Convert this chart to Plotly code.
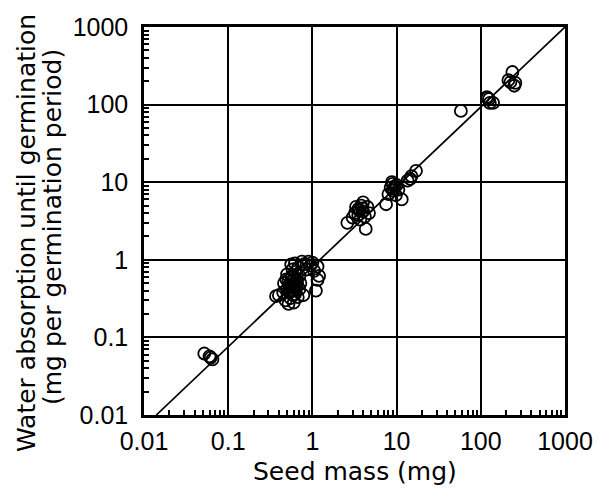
import plotly.graph_objects as go

# Seed mass (mg) and water absorption until germination (mg per germination period)
seed_mass = [
    0.052, 0.062, 0.065, 0.060,
    0.37, 0.40, 0.45, 0.48, 0.50, 0.52, 0.55, 0.55, 0.57, 0.58, 0.60, 0.60,
    0.62, 0.63, 0.65, 0.65, 0.67, 0.68, 0.70, 0.70, 0.72, 0.75, 0.78, 0.80,
    0.85, 0.90, 0.95, 1.00, 1.05, 1.10, 1.15, 1.20, 1.15, 0.50, 0.46, 0.53,
    0.58, 0.62, 0.56, 0.64, 0.59, 0.53, 0.61, 0.66, 0.57, 0.52, 0.56,
    0.54, 0.60, 0.63, 0.49, 0.58,
    2.6, 3.0, 3.2, 3.5, 3.5, 3.8, 4.0, 4.0, 4.2, 4.5, 4.3, 3.3, 4.7, 3.7,
    3.9, 3.6,
    7.5, 8.0, 8.5, 9.0, 9.0, 9.5, 10.0, 10.5, 8.8, 11.5, 9.8, 9.3,
    13.5, 15.0, 17.0, 14.5,
    58,
    120, 128, 125, 140, 118,
    237, 225, 257, 213, 250,
]
water_uptake = [
    0.062, 0.055, 0.052, 0.057,
    0.34, 0.35, 0.38, 0.30, 0.42, 0.55, 0.45, 0.32, 0.60, 0.40, 0.50, 0.28,
    0.36, 0.70, 0.45, 0.55, 0.33, 0.80, 0.42, 0.62, 0.50, 0.95, 0.35, 0.88,
    0.75, 0.95, 0.85, 0.92, 0.72, 0.40, 0.55, 0.62, 0.82, 0.65, 0.50, 0.38,
    0.75, 0.90, 0.52, 0.42, 0.35, 0.47, 0.58, 0.50, 0.44, 0.27, 0.87,
    0.40, 0.46, 0.52, 0.56, 0.62,
    3.0, 3.5, 4.0, 4.5, 3.8, 5.0, 4.2, 5.5, 3.6, 4.8, 2.5, 4.8, 4.0, 3.3,
    4.6, 4.3,
    5.2, 7.0, 8.5, 9.5, 7.8, 8.8, 9.2, 8.0, 10.0, 6.0, 6.8, 8.2,
    10.5, 12.0, 14.0, 11.0,
    83,
    122, 105, 118, 105, 125,
    263, 195, 190, 207, 175,
]

# Fitted line end points
line_x = [0.014, 1000]
line_y = [0.01, 1000]

tick_vals = [0.01, 0.1, 1, 10, 100, 1000]
tick_text = ["0.01", "0.1", "1", "10", "100", "1000"]
minor_vals = [m * 10 ** e for e in range(-2, 3) for m in range(2, 10)]

x_title = "Seed mass (mg)"
y_title_1 = "Water absorption until germination"
y_title_2 = "(mg per germination period)"

fig = go.Figure()
fig.add_trace(go.Scatter(
    x=line_x, y=line_y, mode="lines",
    line=dict(color="black", width=1.7),
    showlegend=False, hoverinfo="skip",
))
fig.add_trace(go.Scatter(
    x=seed_mass, y=water_uptake, mode="markers",
    marker=dict(symbol="circle-open", size=12, color="black",
                line=dict(color="black", width=1.8)),
    showlegend=False,
))

axis_common = dict(
    type="log",
    range=[-2, 3],
    tickmode="array",
    tickvals=tick_vals,
    ticktext=tick_text,
    ticks="",
    showgrid=True,
    gridcolor="black",
    gridwidth=2.2,
    showline=True,
    linecolor="black",
    linewidth=2.5,
    mirror=True,
    zeroline=False,
    tickfont=dict(family="Liberation Sans, Arial", size=25, color="black"),
    minor=dict(tickmode="array", tickvals=minor_vals, ticks="inside",
               ticklen=5, tickwidth=1.5, tickcolor="black", showgrid=False),
)

fig.update_xaxes(**axis_common, ticklabelstandoff=2)
fig.update_yaxes(**axis_common, ticklabelstandoff=8)

title_font = dict(family="DejaVu Sans", size=25, color="black")
fig.add_annotation(text=x_title, xref="paper", yref="paper", x=0.5, y=0,
                   xanchor="center", yanchor="middle", yshift=-56,
                   showarrow=False, font=title_font)
fig.add_annotation(text=y_title_1, xref="paper", yref="paper", x=0, y=0.5,
                   xanchor="center", yanchor="middle", xshift=-118, yshift=-12,
                   textangle=-90, showarrow=False, font=title_font)
fig.add_annotation(text=y_title_2, xref="paper", yref="paper", x=0, y=0.5,
                   xanchor="center", yanchor="middle", xshift=-92, yshift=-6,
                   textangle=-90, showarrow=False, font=title_font)

fig.update_layout(
    width=605, height=492,
    margin=dict(l=144, r=29, t=27, b=77, pad=0),
    paper_bgcolor="white",
    plot_bgcolor="white",
)

fig.write_html("out.html")
